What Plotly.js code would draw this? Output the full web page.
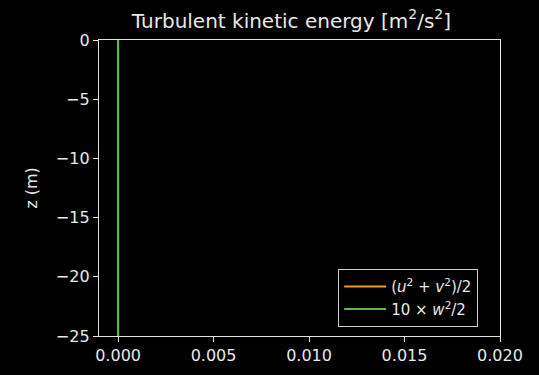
<!DOCTYPE html>
<html>
<head>
<meta charset="utf-8">
<script src="https://cdn.plot.ly/plotly-3.0.1.min.js"></script>
<style>html,body{margin:0;padding:0;background:#000;}#chart{width:539px;height:375px;}</style>
</head>
<body>
<div id="chart"></div>
<script>
const depth = [0, -5, -10, -15, -20, -25];
const horizTke = [0, 0, 0, 0, 0, 0];
const vertTke10 = [0, 0, 0, 0, 0, 0];
const xTicks = [0, 0.005, 0.01, 0.015, 0.02];
const xTickLabels = ['0.000', '0.005', '0.010', '0.015', '0.020'];
const yTicks = [0, -5, -10, -15, -20, -25];
const yTickLabels = ['0', '\u22125', '\u221210', '\u221215', '\u221220', '\u221225'];

const fontFam = 'DejaVu Sans, sans-serif';
const txt = '#e8e8e8';

const traces = [
  {x: horizTke, y: depth, mode: 'lines', name: '(<i>u</i><sup>2</sup> + <i>v</i><sup>2</sup>)/2',
   line: {color: '#f59a2a', width: 2}},
  {x: vertTke10, y: depth, mode: 'lines', name: '10 \u00d7 <i>w</i><sup>2</sup>/2',
   line: {color: '#5fb84a', width: 2}}
];

const layout = {
  width: 539, height: 375,
  paper_bgcolor: '#000', plot_bgcolor: '#000',
  margin: {l: 99, r: 39, t: 40, b: 39},
  font: {family: fontFam, color: txt, size: 16},
  title: {text: 'Turbulent kinetic energy [m<sup>2</sup>/s<sup>2</sup>]', font: {size: 20, color: txt, family: fontFam},
          xref: 'paper', x: 0.48, xanchor: 'center', y: 0.945, yanchor: 'middle'},
  showlegend: true,
  legend: {x: 0.945, y: 0.03, xanchor: 'right', yanchor: 'bottom', bgcolor: '#000',
           bordercolor: '#cccccc', borderwidth: 1.2, font: {size: 15, color: txt, family: fontFam},
           tracegroupgap: 2, itemwidth: 42},
  xaxis: {range: [-0.001, 0.02], tickvals: xTicks, ticktext: xTickLabels, showgrid: false, zeroline: false,
          showline: true, linecolor: '#e0e0e0', linewidth: 1.2, mirror: true,
          ticks: 'outside', ticklen: 5, tickcolor: '#e0e0e0', tickfont: {size: 16, color: txt}},
  yaxis: {range: [-25, 0], tickvals: yTicks, ticktext: yTickLabels, showgrid: false, zeroline: false,
          showline: true, linecolor: '#e0e0e0', linewidth: 1.2, mirror: true,
          ticks: 'outside', ticklen: 5, tickcolor: '#e0e0e0', tickfont: {size: 16, color: txt},
          title: {text: 'z (m)', font: {size: 16, color: txt}, standoff: 14}}
};

Plotly.newPlot('chart', traces, layout, {displayModeBar: false, staticPlot: true});
</script>
</body>
</html>
